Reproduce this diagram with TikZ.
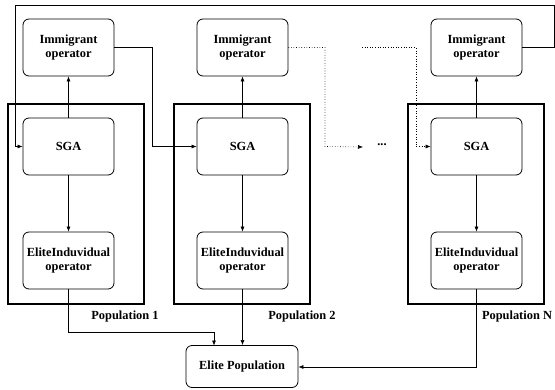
\documentclass[tikz,border=0pt]{standalone}
\usepackage{fontspec}
\setmainfont{Liberation Serif}
\usetikzlibrary{arrows.meta}
\begin{document}
\begin{tikzpicture}[x=1pt,y=-1pt,
  box/.style={draw, rounded corners=6pt, line width=0.8pt, minimum width=91pt, minimum height=57pt, align=center, inner sep=1pt,
    font=\fontsize{12.4}{14.5}\selectfont\bfseries},
  frame/.style={draw, line width=1.4pt},
  conn/.style={line width=0.6pt, -{Latex[length=5pt,width=4pt]}},
  dconn/.style={line width=0.6pt, dotted, -{Latex[length=5pt,width=4pt]}},
  lbl/.style={font=\fontsize{12.4}{14.5}\selectfont\bfseries, inner sep=0pt}]
\useasboundingbox (0,0) rectangle (555,389);
% frames
\draw[frame] (8,104) rectangle (144,304);
\draw[frame] (174,104) rectangle (310,304);
\draw[frame] (408,104) rectangle (544,304);
% nodes
\node[box] (imm1) at (68.5,47.5) {Immigrant\\operator};
\node[box] (imm2) at (242.5,47.5) {Immigrant\\operator};
\node[box] (immN) at (476.5,47.5) {Immigrant\\operator};
\node[box] (sga1) at (68.5,146.5) {SGA};
\node[box] (sga2) at (242.5,146.5) {SGA};
\node[box] (sgaN) at (476.5,146.5) {SGA};
\node[box] (eli1) at (68.5,260.5) {EliteInduvidual\\operator};
\node[box] (eli2) at (242.5,260.5) {EliteInduvidual\\operator};
\node[box] (eliN) at (476.5,260.5) {EliteInduvidual\\operator};
\node[box, minimum width=112pt, minimum height=42pt] (elite) at (242,366.5) {Elite Population};
\node[lbl] (p1) at (125,317) {Population 1};
\node[lbl] (p2) at (302,317) {Population 2};
\node[lbl] (pN) at (517,317) {Population N};
\node[lbl] (dots) at (382,145) {...};
% coordinates for dotted ends
\coordinate (d1) at (363,147);
\coordinate (d2) at (362,47.5);
% vertical arrows
\draw[conn] (sga1) -- (imm1);
\draw[conn] (sga2) -- (imm2);
\draw[conn] (sgaN) -- (immN);
\draw[conn] (sga1) -- (eli1);
\draw[conn] (sga2) -- (eli2);
\draw[conn] (sgaN) -- (eliN);
% migration
\draw[conn] (imm1.east) -- (152,47.5) -- (152,146.5) -- (sga2.west);
\draw[dconn] (imm2.east) -- (325,47.5) -- (325,146.5) -- (d1);
\draw[dconn] (d2) -- (416,47.5) -- (416,146.5) -- (sgaN.west);
\draw[conn] (immN.east) -- (554,47.5) -- (554,5) -- (15,5) -- (15,146.5) -- (sga1.west);
% elite
\draw[conn] (eli1.south) -- (68.5,332) -- (214,332) -- (214,345.5);
\draw[conn] (eli2.south) -- (elite.north -| eli2.south);
\draw[conn] (eliN.south) -- (476.5,367) -- (elite.east |- 0,367);
\end{tikzpicture}
\end{document}
